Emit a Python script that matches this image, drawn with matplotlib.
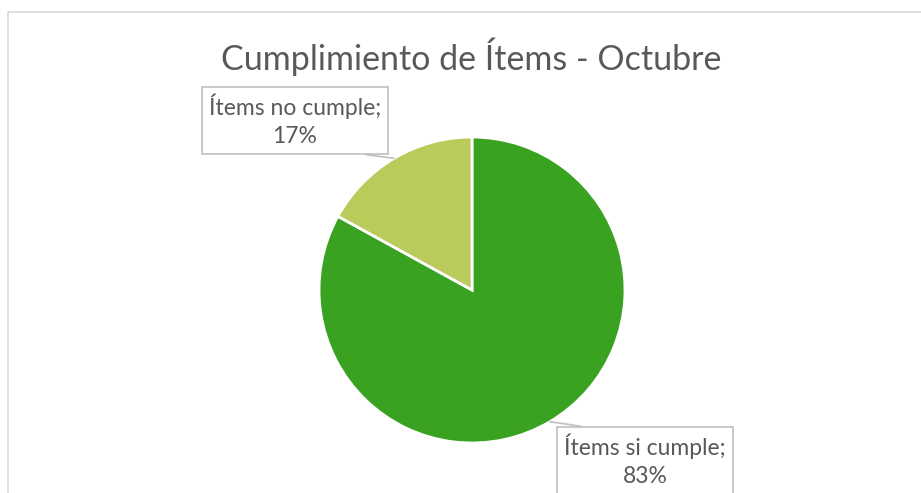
import matplotlib
matplotlib.use("Agg")
import matplotlib.pyplot as plt
from matplotlib.patches import Rectangle
import numpy as np

plt.rcParams['font.family'] = ['Lato', 'DejaVu Sans']

title = "Cumplimiento de Ítems - Octubre"
cats = ['Ítems si cumple', 'Ítems no cumple']
vals = [83, 17]
colors = ['#3AA221', '#BBCB5B']

W, H = 921, 493
fig = plt.figure(figsize=(W/100, H/100), dpi=100)

# chart border (runs off the right and bottom edges)
fig.patches.append(Rectangle((8/W, -0.1), 1.2, (H-11.5)/H + 0.1, transform=fig.transFigure,
                             fill=False, edgecolor='#D9D9D9', linewidth=1.2))

cx, cy, r = 472, 290, 153
ax = fig.add_axes([(cx-r)/W, (H-cy-r)/H, 2*r/W, 2*r/H])
wedges, _ = ax.pie(vals, colors=colors, startangle=90, counterclock=False,
                   wedgeprops=dict(edgecolor='white', linewidth=2))
ax.set_xlim(-1, 1)
ax.set_ylim(-1, 1)
ax.axis('off')

def px(x, y):
    return ((x-cx)/r, (cy-y)/r)

# label positions (pixel centres of the boxes) and leader anchor on the box
lab_pos = [(645, 460.5), (295, 120.5)]
relpos = [(0.42, 1.0), (0.58, 0.0)]
for i, w in enumerate(wedges):
    ang = np.deg2rad((w.theta1 + w.theta2) / 2)
    tip = (np.cos(ang), np.sin(ang))
    ax.annotate("%s;\n%d%%" % (cats[i], vals[i]), xy=tip, xytext=px(*lab_pos[i]),
                ha='center', va='center', fontsize=16.5, color='#595959',
                linespacing=1.4, annotation_clip=False,
                bbox=dict(boxstyle='square,pad=0.3', fc='white', ec='#BFBFBF', lw=1.2),
                arrowprops=dict(arrowstyle='-', color='#BFBFBF', lw=1.2,
                                relpos=relpos[i], shrinkA=0, shrinkB=0))

fig.text(471/W, 1 - 57/H, title, ha='center', va='center', fontsize=24.5, color='#595959')

fig.savefig("out.png", dpi=100)
